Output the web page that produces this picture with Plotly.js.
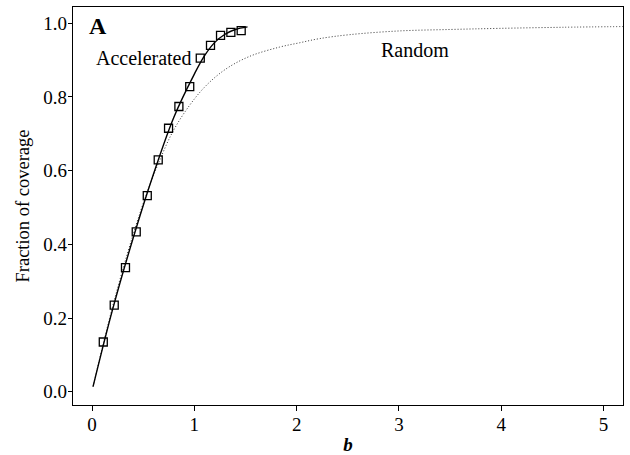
<!DOCTYPE html>
<html>
<head>
<meta charset="utf-8">
<script src="https://cdn.plot.ly/plotly-3.0.1.min.js"></script>
<style>html,body{margin:0;padding:0;background:#fff;}#chart{width:630px;height:455px;}</style>
</head>
<body>
<div id="chart"></div>
<script>
// Measured data (squares)
const measB = [0.11, 0.217, 0.327, 0.432, 0.54, 0.647, 0.748, 0.849, 0.955, 1.058, 1.158, 1.256, 1.357, 1.458];
const measF = [0.135, 0.235, 0.337, 0.434, 0.532, 0.629, 0.715, 0.774, 0.828, 0.905, 0.94, 0.967, 0.975, 0.98];
// Accelerated model curve (solid)
const accB = [0.01, 0.2, 0.4, 0.6, 0.8, 1.0, 1.1, 1.2, 1.3, 1.4, 1.52];
const accF = [0.014, 0.222, 0.415, 0.59, 0.745, 0.862, 0.912, 0.948, 0.97, 0.983, 0.99];
// Random model curve (dotted)
const rndB = [0.01, 0.2, 0.4, 0.55, 0.66, 0.79, 0.953, 1.116, 1.31, 1.54, 1.83, 2.03, 2.22, 2.52, 3.0, 3.5, 3.98, 4.6, 5.2];
const rndF = [0.014, 0.23, 0.425, 0.55, 0.627, 0.706, 0.777, 0.831, 0.876, 0.91, 0.935, 0.947, 0.958, 0.969, 0.979, 0.983, 0.986, 0.989, 0.991];
const xTicks = [0, 1, 2, 3, 4, 5];
const yTicks = [0, 0.2, 0.4, 0.6, 0.8, 1.0];
const yTickText = ['0.0', '0.2', '0.4', '0.6', '0.8', '1.0'];

const serif = 'Liberation Serif';

const traces = [
  {x: rndB, y: rndF, mode: 'lines', line: {color: '#333', width: 1, dash: '1px,2px', shape: 'spline'}, hoverinfo: 'none'},
  {x: accB, y: accF, mode: 'lines', line: {color: '#000', width: 1.4, shape: 'spline'}, hoverinfo: 'none'},
  {x: measB, y: measF, mode: 'markers', marker: {symbol: 'square-open', size: 8, color: '#000', line: {width: 1.3, color: '#000'}}, hoverinfo: 'none'}
];

const layout = {
  width: 630, height: 455,
  margin: {l: 73, r: 7, t: 7, b: 50},
  paper_bgcolor: '#fff', plot_bgcolor: '#fff',
  showlegend: false,
  font: {family: serif, size: 18, color: '#000'},
  xaxis: {
    range: [-0.186, 5.19], tickvals: xTicks, ticktext: xTicks.map(String),
    ticks: 'outside', ticklen: 5, tickcolor: '#000', showgrid: false, zeroline: false,
    showline: true, linecolor: '#000', linewidth: 1.3, mirror: true,
    ticklabelstandoff: -3,
    tickfont: {family: serif, size: 19, color: '#000'},
    title: {text: '<b><i>b</i></b>', font: {family: serif, size: 19, color: '#000'}, standoff: 4}
  },
  yaxis: {
    range: [-0.036, 1.044], tickvals: yTicks, ticktext: yTickText,
    ticks: 'outside', ticklen: 4, tickcolor: '#000', showgrid: false, zeroline: false,
    showline: true, linecolor: '#000', linewidth: 1.3, mirror: true,
    ticklabelstandoff: -3,
    tickfont: {family: serif, size: 19, color: '#000'},
    title: {text: 'Fraction of coverage', font: {family: serif, size: 18.5, color: '#000'}, standoff: 8}
  },
  annotations: [
    {text: '<b>A</b>', xref: 'paper', yref: 'paper', x: 0.025, y: 0.99, xanchor: 'left', yanchor: 'top', showarrow: false, font: {family: serif, size: 24, color: '#000'}},
    {text: 'Accelerated', xref: 'x', yref: 'y', x: 0.99, y: 0.905, xanchor: 'right', yanchor: 'middle', showarrow: false, font: {family: serif, size: 20, color: '#000'}},
    {text: 'Random', xref: 'x', yref: 'y', x: 3.16, y: 0.928, xanchor: 'center', yanchor: 'middle', showarrow: false, font: {family: serif, size: 20, color: '#000'}}
  ]
};

Plotly.newPlot('chart', traces, layout, {staticPlot: true, displayModeBar: false});
</script>
</body>
</html>
